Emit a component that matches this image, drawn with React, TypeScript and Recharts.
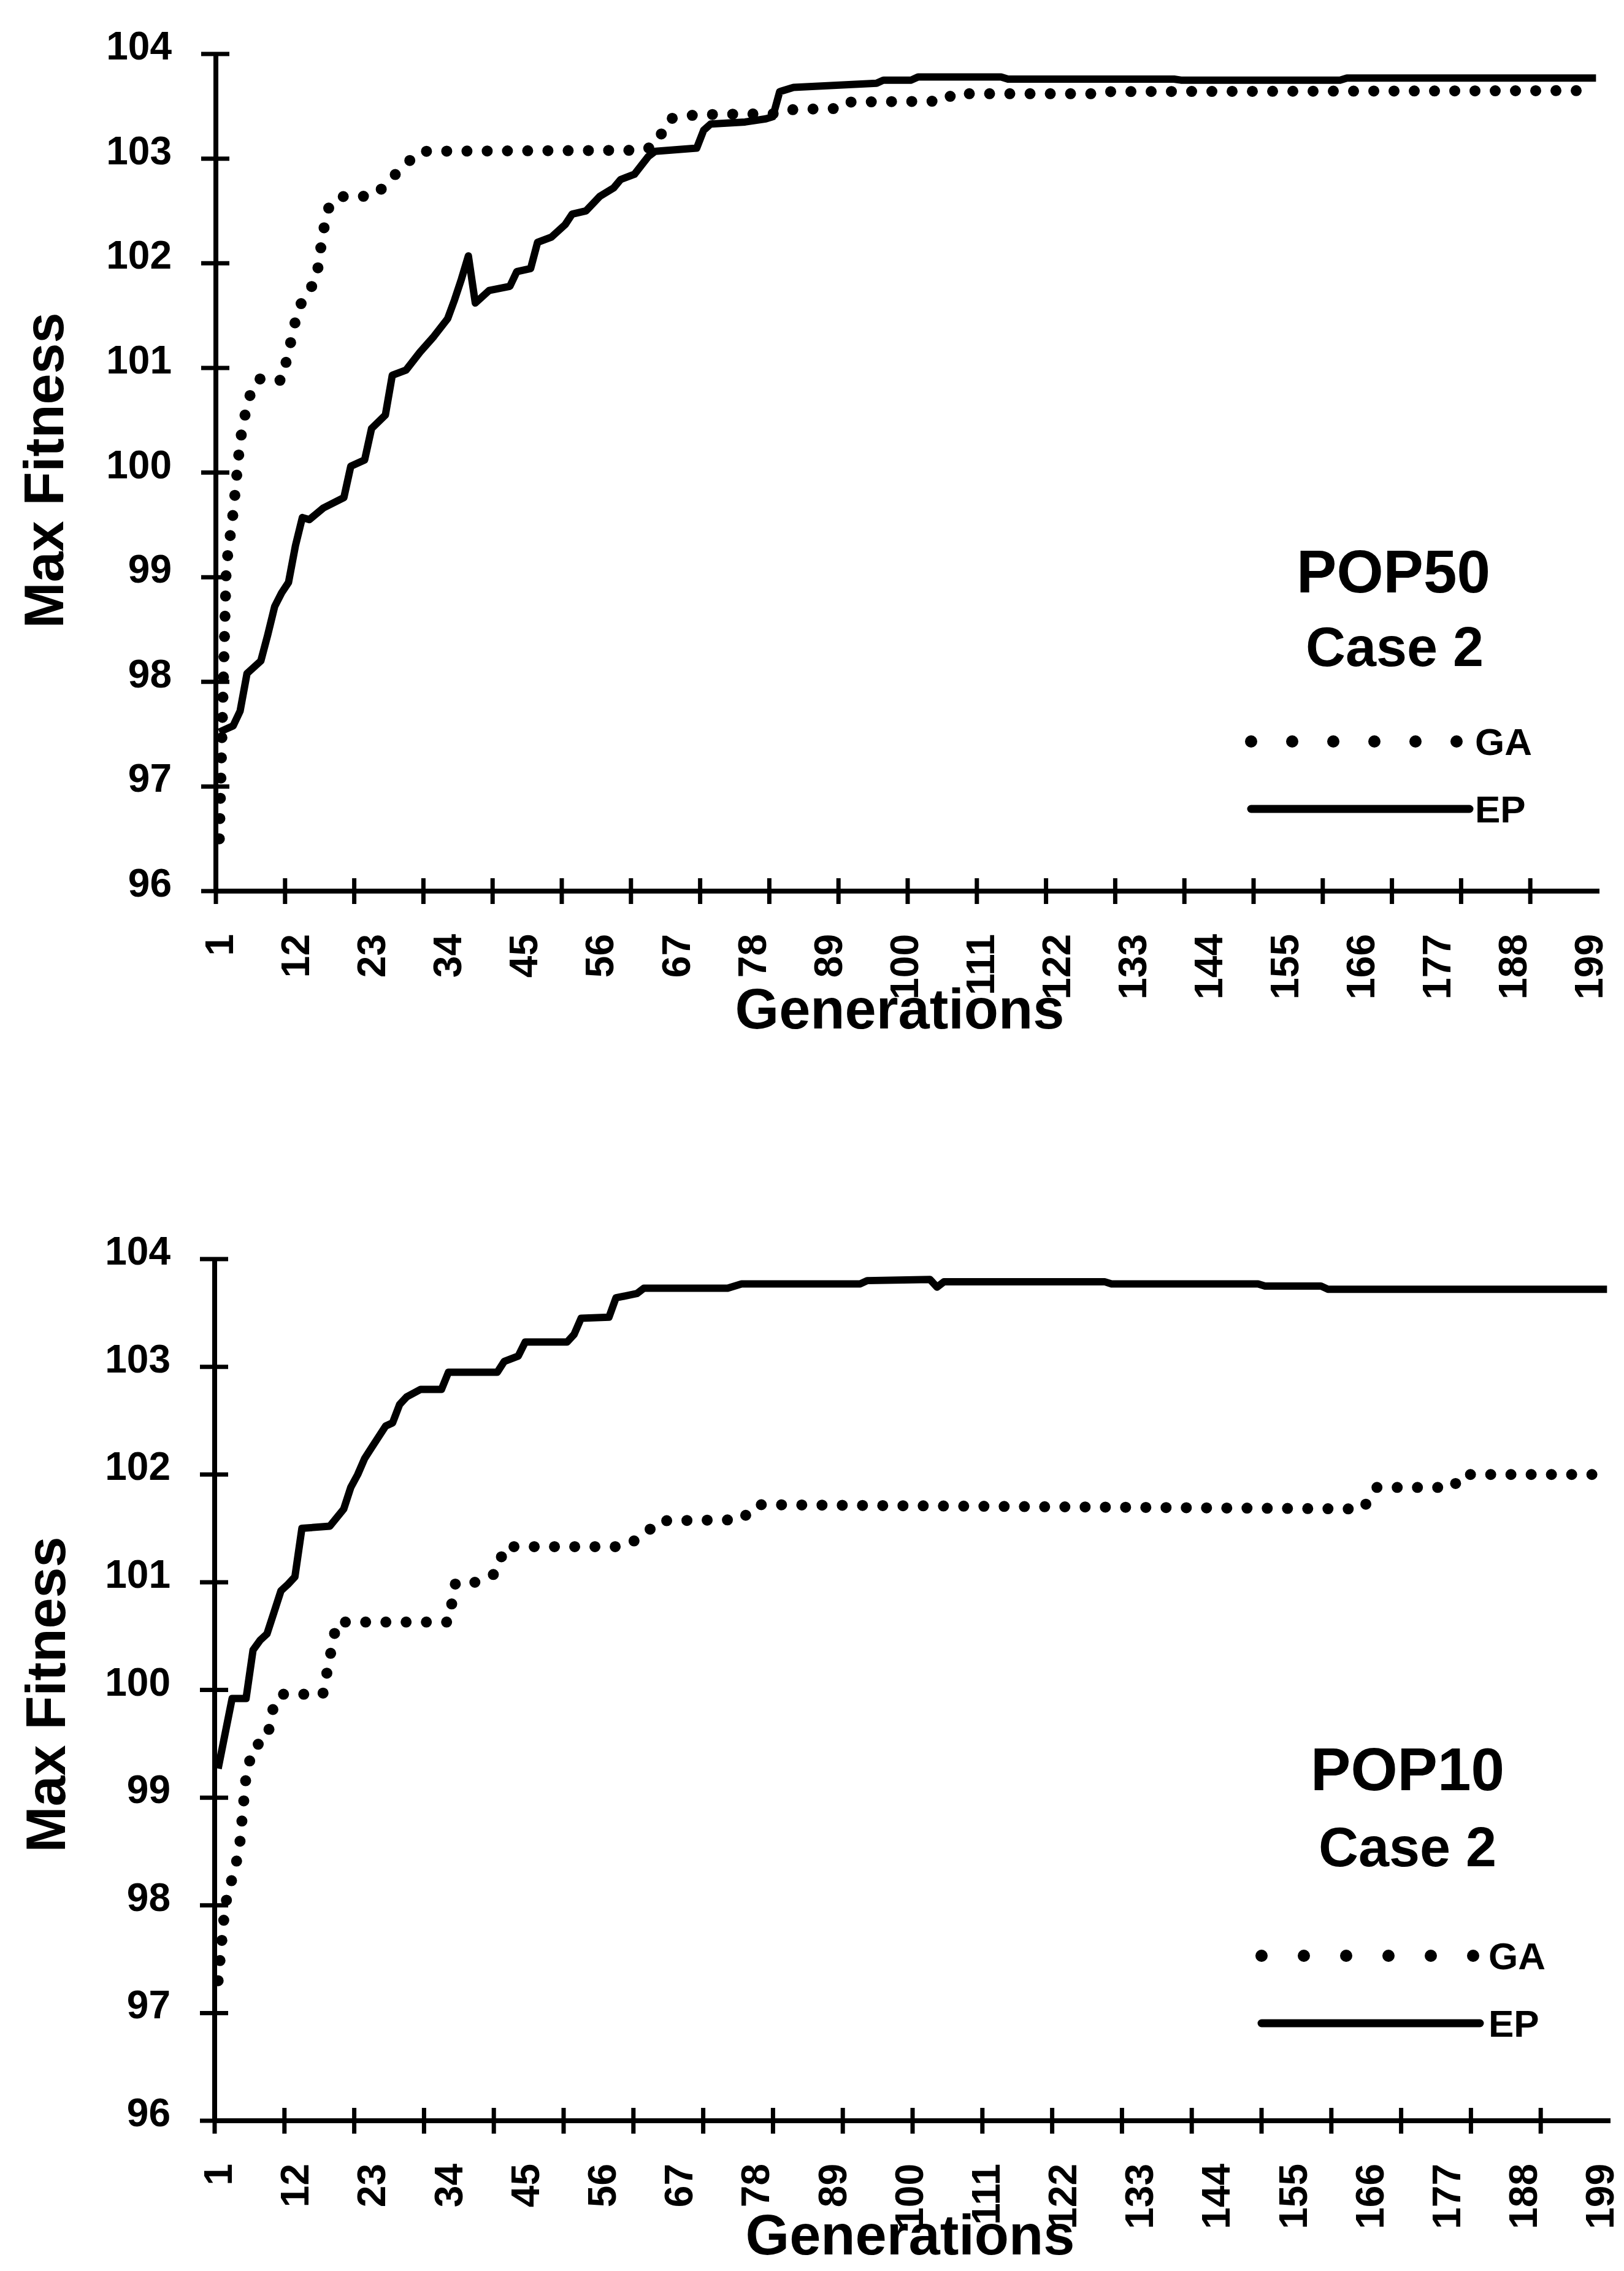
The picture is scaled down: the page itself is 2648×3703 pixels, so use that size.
import { Legend, Line, LineChart, XAxis, YAxis } from "recharts";

const FONT = '"Liberation Sans", Arial, Helvetica, sans-serif';

// axis ticks
const fitnessTicks = [96, 97, 98, 99, 100, 101, 102, 103, 104];
const genLabels = [1, 12, 23, 34, 45, 56, 67, 78, 89, 100, 111, 122, 133, 144, 155, 166, 177, 188, 199];
const genMarks = [0.5, 10.5, 20.5, 30.5, 40.5, 50.5, 60.5, 70.5, 80.5, 90.5, 100.5, 110.5, 120.5, 130.5, 140.5, 150.5, 160.5, 170.5, 180.5, 190.5];

// POP50 - GA (step corners only)
const ga50Gen = [1, 2, 3, 4, 5, 6, 7, 10, 11, 12, 13, 15, 16, 17, 19, 23, 24, 26, 28, 30, 62, 64, 66, 70, 82, 84, 91, 92, 106, 107, 127, 128, 200];
const ga50Fit = [96.5, 99.1, 99.62, 100.3, 100.65, 100.85, 100.9, 100.88, 101.15, 101.45, 101.65, 101.84, 102.3, 102.58, 102.64, 102.64, 102.68, 102.82, 102.95, 103.07, 103.08, 103.12, 103.38, 103.42, 103.43, 103.47, 103.48, 103.54, 103.55, 103.62, 103.62, 103.64, 103.65];

// POP50 - EP
const ep50Gen = [1, 3, 4, 5, 7, 8, 9, 10, 11, 12, 13, 14, 16, 19, 20, 22, 23, 25, 26, 28, 30, 32, 34, 35, 36, 37, 38, 40, 43, 44, 46, 47, 49, 51, 52, 54, 56, 58, 59, 61, 63, 64, 70, 71, 72, 77, 80, 81, 82, 84, 96, 97, 101, 102, 114, 115, 139, 140, 163, 164, 200];
const ep50Fit = [97.52, 97.58, 97.72, 98.08, 98.2, 98.45, 98.72, 98.85, 98.95, 99.3, 99.57, 99.55, 99.66, 99.76, 100.06, 100.12, 100.42, 100.55, 100.93, 100.98, 101.15, 101.3, 101.47, 101.65, 101.85, 102.07, 101.62, 101.74, 101.78, 101.92, 101.95, 102.2, 102.25, 102.37, 102.47, 102.5, 102.64, 102.72, 102.8, 102.85, 103.02, 103.07, 103.1, 103.27, 103.33, 103.35, 103.38, 103.4, 103.64, 103.68, 103.72, 103.75, 103.75, 103.78, 103.78, 103.76, 103.76, 103.75, 103.75, 103.77, 103.77];

// POP10 - GA
const ga10Gen = [1, 2, 3, 4, 5, 6, 8, 9, 10, 16, 17, 18, 34, 35, 38, 40, 41, 42, 59, 62, 64, 76, 78, 165, 167, 178, 179, 200];
const ga10Fit = [97.3, 98.0, 98.25, 98.5, 99.2, 99.47, 99.54, 99.87, 99.96, 99.96, 100.3, 100.63, 100.63, 100.99, 101.0, 101.05, 101.1, 101.33, 101.33, 101.43, 101.57, 101.58, 101.72, 101.68, 101.88, 101.88, 102.0, 102.0];

// POP10 - EP
const ep10Gen = [1, 3, 5, 6, 7, 8, 9, 10, 11, 12, 13, 17, 18, 19, 20, 21, 22, 23, 24, 25, 26, 27, 28, 30, 33, 34, 41, 42, 44, 45, 51, 52, 53, 57, 58, 61, 62, 74, 76, 93, 94, 103, 104, 105, 128, 129, 150, 151, 159, 160, 200];
const ep10Fit = [99.27, 99.92, 99.92, 100.37, 100.46, 100.52, 100.72, 100.92, 100.98, 101.05, 101.5, 101.52, 101.6, 101.68, 101.88, 102.0, 102.15, 102.25, 102.35, 102.45, 102.48, 102.65, 102.72, 102.79, 102.79, 102.95, 102.95, 103.05, 103.1, 103.23, 103.23, 103.3, 103.45, 103.46, 103.64, 103.68, 103.73, 103.73, 103.77, 103.77, 103.8, 103.81, 103.74, 103.79, 103.79, 103.77, 103.77, 103.75, 103.75, 103.72, 103.72];

const toPoints = (gens: number[], fits: number[]) => gens.map((g, i) => ({ gen: g, fit: fits[i] }));

const allGenTicks = [...genMarks, ...genLabels].sort((a, b) => a - b);

function YTick({ x, y, payload }: any) {
  return (
    <g>
      <line x1={x - 24} x2={x + 22} y1={y} y2={y} stroke="#000" strokeWidth={7} />
      <text x={x - 72} y={y} dy={9} textAnchor="end" fontSize={64} fontWeight="bold" fontFamily={FONT} fill="#000">
        {payload.value}
      </text>
    </g>
  );
}

function XTick({ x, y, payload }: any) {
  const v = payload.value;
  if (!Number.isInteger(v)) {
    return <line x1={x} x2={x} y1={y - 21} y2={y + 21} stroke="#000" strokeWidth={7} />;
  }
  return (
    <text
      transform={`translate(${x},${y + 70}) rotate(-90)`}
      textAnchor="end"
      dy="0.35em"
      fontSize={64}
      fontWeight="bold"
      fontFamily={FONT}
      fill="#000"
    >
      {v}
    </text>
  );
}

function LegendBox({ dotGap, lineEnd, textX }: { dotGap: number; lineEnd: number; textX: number }) {
  return (
    <svg width={520} height={190} style={{ overflow: "visible" }}>
      <line x1={10} x2={11 + dotGap * 5} y1={30} y2={30} stroke="#000" strokeWidth={20} strokeLinecap="round" strokeDasharray={`0 ${dotGap}`} />
      <text x={textX} y={52} fontSize={62} fontWeight="bold" fontFamily={FONT} fill="#000">GA</text>
      <line x1={10} x2={lineEnd} y1={140} y2={140} stroke="#000" strokeWidth={13} strokeLinecap="round" />
      <text x={textX} y={162} fontSize={62} fontWeight="bold" fontFamily={FONT} fill="#000">EP</text>
    </svg>
  );
}

type ChartProps = {
  top: number;
  height: number;
  plotTop: number;
  plotLeft: number;
  plotRight: number;
  plotBottom: number;
  ga: { gen: number; fit: number }[];
  ep: { gen: number; fit: number }[];
  legendLeft: number;
  legendTop: number;
  dotGap: number;
  lineEnd: number;
  textX: number;
};

function FitnessChart(p: ChartProps) {
  return (
    <div style={{ position: "absolute", left: 0, top: p.top }}>
      <LineChart
        width={2648}
        height={p.height}
        margin={{ top: p.plotTop, right: 2648 - p.plotRight, bottom: 0, left: 0 }}
      >
        <XAxis
          dataKey="gen"
          type="number"
          domain={[0.5, 200.5]}
          allowDataOverflow
          ticks={allGenTicks}
          interval={0}
          tick={<XTick />}
          tickLine={false}
          tickSize={0}
          tickMargin={0}
          axisLine={{ stroke: "#000", strokeWidth: 8 }}
          height={p.height - p.plotBottom}
        />
        <YAxis
          type="number"
          domain={[96, 104]}
          ticks={fitnessTicks}
          interval={0}
          tick={<YTick />}
          tickLine={false}
          tickSize={0}
          tickMargin={0}
          axisLine={{ stroke: "#000", strokeWidth: 8 }}
          width={p.plotLeft}
        />
        <Legend
          layout="horizontal"
          verticalAlign="middle"
          align="center"
          wrapperStyle={{ left: p.legendLeft, top: p.legendTop, width: 520, height: 190 }}
          content={() => <LegendBox dotGap={p.dotGap} lineEnd={p.lineEnd} textX={p.textX} />}
        />
        <Line
          data={p.ga}
          dataKey="fit"
          name="GA"
          type="linear"
          stroke="#000"
          strokeWidth={18}
          strokeLinecap="round"
          strokeDasharray="0 33"
          dot={false}
          activeDot={false}
          isAnimationActive={false}
        />
        <Line
          data={p.ep}
          dataKey="fit"
          name="EP"
          type="linear"
          stroke="#000"
          strokeWidth={12}
          strokeLinejoin="round"
          dot={false}
          activeDot={false}
          isAnimationActive={false}
        />
      </LineChart>
    </div>
  );
}

export default function App() {
  const textStyle = { fontFamily: FONT, fontWeight: "bold" as const, fill: "#000" };
  return (
    <div style={{ position: "relative", width: 2648, height: 3703, background: "#fff", overflow: "hidden" }}>
      <style>{`body{margin:0;background:#fff}`}</style>
      <FitnessChart
        top={0}
        height={1700}
        plotTop={88}
        plotLeft={352}
        plotRight={2608}
        plotBottom={1453}
        ga={toPoints(ga50Gen, ga50Fit)}
        ep={toPoints(ep50Gen, ep50Fit)}
        legendLeft={2030}
        legendTop={1179}
        dotGap={67}
        lineEnd={366}
        textX={375}
      />
      <FitnessChart
        top={1750}
        height={1953}
        plotTop={303}
        plotLeft={350}
        plotRight={2626}
        plotBottom={1708}
        ga={toPoints(ga10Gen, ga10Fit)}
        ep={toPoints(ep10Gen, ep10Fit)}
        legendLeft={2047}
        legendTop={1409}
        dotGap={69}
        lineEnd={366}
        textX={380}
      />
      <svg width={2648} height={3703} style={{ position: "absolute", left: 0, top: 0, pointerEvents: "none" }}>
        <text transform="translate(103,767) rotate(-90)" textAnchor="middle" fontSize={90} {...textStyle}>Max Fitness</text>
        <text x={1467} y={1677} textAnchor="middle" fontSize={92} {...textStyle}>Generations</text>
        <text x={2272} y={966} textAnchor="middle" fontSize={98} {...textStyle}>POP50</text>
        <text x={2274} y={1086} textAnchor="middle" fontSize={90} {...textStyle}>Case 2</text>

        <text transform="translate(106,2763) rotate(-90)" textAnchor="middle" fontSize={90} {...textStyle}>Max Fitness</text>
        <text x={1484} y={3676} textAnchor="middle" fontSize={92} {...textStyle}>Generations</text>
        <text x={2295} y={2919} textAnchor="middle" fontSize={98} {...textStyle}>POP10</text>
        <text x={2295} y={3043} textAnchor="middle" fontSize={90} {...textStyle}>Case 2</text>
      </svg>
    </div>
  );
}
